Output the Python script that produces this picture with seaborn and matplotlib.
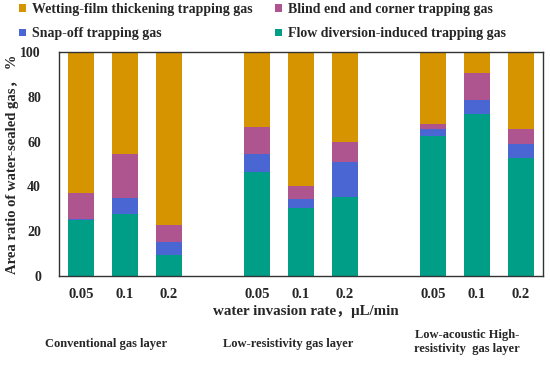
import numpy as np
import pandas as pd
import matplotlib
import matplotlib.pyplot as plt
from matplotlib.patches import Patch
import seaborn as sns

matplotlib.use("Agg")

# ------------------------------------------------------------------
# Data (area ratio of water-sealed gas, %)
# ------------------------------------------------------------------
rates = ["0.05", "0.1", "0.2"]
layers = ["Conventional gas layer", "Low-resistivity gas layer",
          "Low-acoustic High-\nresistivity  gas layer"]
flow_diversion = [25.0, 27.7, 9.2, 46.3, 30.2, 35.3, 62.4, 72.2, 52.5]
snap_off = [0.3, 7.3, 6.1, 8.2, 4.2, 15.5, 3.2, 6.5, 6.6]
blind_corner = [11.9, 19.5, 7.5, 12.0, 5.9, 9.0, 2.4, 11.8, 6.4]
wetting_film = [100 - a - b - c for a, b, c in zip(flow_diversion, snap_off, blind_corner)]

series_names = ["Wetting-film thickening trapping gas", "Blind end and corner trapping gas",
                "Snap-off trapping gas", "Flow diversion-induced trapping gas"]
colors = {
    "Wetting-film thickening trapping gas": "#D69500",
    "Blind end and corner trapping gas": "#AE5590",
    "Snap-off trapping gas": "#4A66D3",
    "Flow diversion-induced trapping gas": "#009E87",
}

# bar positions: three groups of three with a one-slot gap
pos = [g * 4 + i for g in range(len(layers)) for i in range(len(rates))]
tick_labels = rates * len(layers)

df = pd.DataFrame({
    "pos": pos,
    "Flow diversion-induced trapping gas": flow_diversion,
    "Snap-off trapping gas": snap_off,
    "Blind end and corner trapping gas": blind_corner,
    "Wetting-film thickening trapping gas": wetting_film,
})
stack_order = ["Flow diversion-induced trapping gas", "Snap-off trapping gas",
               "Blind end and corner trapping gas", "Wetting-film thickening trapping gas"]
cum = df[stack_order].cumsum(axis=1)
cum["pos"] = df["pos"]

sns.set_style("white")
plt.rcParams["font.family"] = ["Liberation Serif", "Noto Sans CJK SC"]
plt.rcParams["font.weight"] = "bold"

fig = plt.figure(figsize=(5.5, 3.66), dpi=100)
ax = fig.add_axes([59 / 550, 1 - 276 / 366, (543 - 59) / 550, (276 - 52) / 366])

# draw cumulative totals from top down so each layer shows its own segment
for name in reversed(stack_order):
    sns.barplot(data=cum, x="pos", y=name, native_scale=True, width=0.57,
                color=colors[name], saturation=1, linewidth=0, ax=ax)

ax.set_xlim(-0.5, 10.5)
ax.set_ylim(0, 100)
ax.set_yticks(range(0, 101, 20))
ax.set_xticks(pos)
ax.set_xticklabels(tick_labels)
ax.tick_params(axis="both", length=0)
ax.tick_params(axis="y", pad=13, labelsize=10)
ax.tick_params(axis="x", pad=9, labelsize=10.5)
for lab in ax.get_xticklabels() + ax.get_yticklabels():
    lab.set_fontweight("bold")
for sp in ax.spines.values():
    sp.set_visible(True)
    sp.set_color("#333333")
    sp.set_linewidth(1.0)

ax.set_xlabel("water invasion rate，μL/min", fontsize=10.8, fontweight="bold")
ax.xaxis.set_label_coords(0.51, -0.13)
ax.set_ylabel("Area ratio of water-sealed gas， %", fontsize=10.5, fontweight="bold")
ax.yaxis.set_label_coords(-0.083, 0.5)

# group labels under the axis
group_x = [106, 288, 467]
group_y = [344, 344, 342]
for name, gx, gy in zip(layers, group_x, group_y):
    fig.text(gx / 550, 1 - gy / 366, name, ha="center", va="center",
             fontsize=9, fontweight="bold", linespacing=1.25)

handles = [Patch(facecolor=colors[n], edgecolor="none") for n in series_names]
fig.legend([handles[0], handles[2], handles[1], handles[3]],
           [series_names[0], series_names[2], series_names[1], series_names[3]],
           ncol=2, loc="upper left", bbox_to_anchor=(0.012, 1.025), frameon=False,
           handlelength=0.5, handleheight=0.5, handletextpad=0.45,
           columnspacing=1.6, labelspacing=0.8, prop={"weight": "bold", "size": 10})

fig.savefig("out.png", dpi=100)
